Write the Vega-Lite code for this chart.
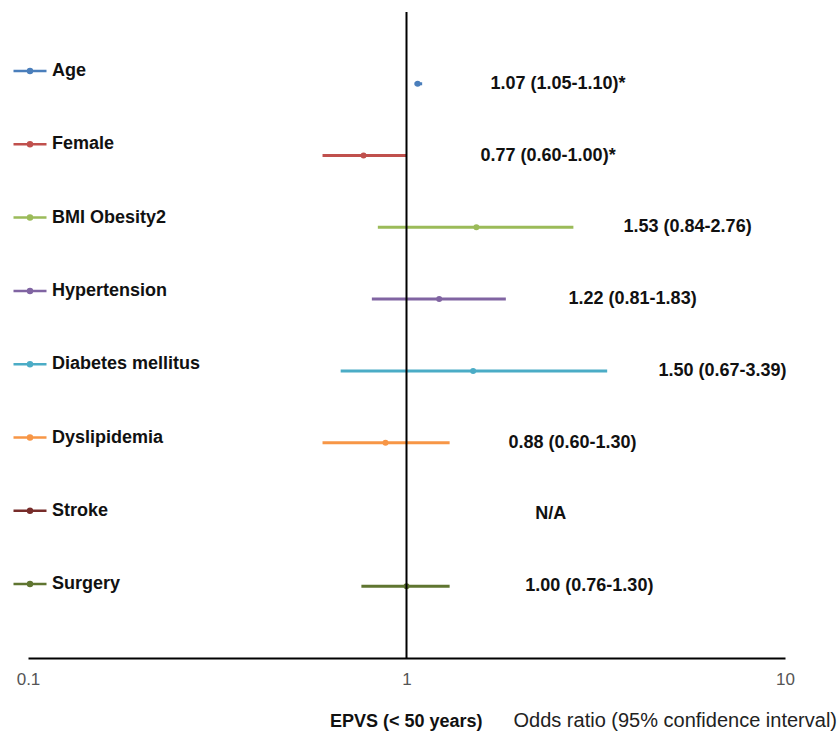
{
  "$schema": "https://vega.github.io/schema/vega-lite/v6.json",
  "autosize": {"type": "none"},
  "width": 757,
  "height": 646,
  "padding": {"left": 28, "top": 12, "right": 52, "bottom": 76},
  "background": "white",
  "config": {"view": {"stroke": null}, "font": "Liberation Sans"},
  "title": {"text": "EPVS (< 50 years)", "orient": "bottom", "anchor": "start", "frame": "group", "dx": 302, "offset": -17, "fontSize": 18, "fontWeight": "bold", "color": "#111", "font": "Liberation Sans"},
  "data": {"values": [
    {"var": "Age", "or": 1.07, "lo": 1.05, "hi": 1.10, "label": "1.07 (1.05-1.10)*", "lx": 1.667},
    {"var": "Female", "or": 0.77, "lo": 0.60, "hi": 1.00, "label": "0.77 (0.60-1.00)*", "lx": 1.569},
    {"var": "BMI Obesity2", "or": 1.53, "lo": 0.84, "hi": 2.76, "label": "1.53 (0.84-2.76)", "lx": 3.745},
    {"var": "Hypertension", "or": 1.22, "lo": 0.81, "hi": 1.83, "label": "1.22 (0.81-1.83)", "lx": 2.68},
    {"var": "Diabetes mellitus", "or": 1.50, "lo": 0.67, "hi": 3.39, "label": "1.50 (0.67-3.39)", "lx": 4.63},
    {"var": "Dyslipidemia", "or": 0.88, "lo": 0.60, "hi": 1.30, "label": "0.88 (0.60-1.30)", "lx": 1.86},
    {"var": "Stroke", "or": null, "lo": null, "hi": null, "label": "N/A", "lx": 2.19},
    {"var": "Surgery", "or": 1.00, "lo": 0.76, "hi": 1.30, "label": "1.00 (0.76-1.30)", "lx": 2.06}
  ]},
  "encoding": {
    "y": {"field": "var", "type": "nominal", "sort": null,
      "scale": {"type": "point", "padding": 1, "domain": ["Age", "Female", "BMI Obesity2", "Hypertension", "Diabetes mellitus", "Dyslipidemia", "Stroke", "Surgery"]}, "axis": null}
  },
  "layer": [
    {
      "mark": {"type": "rule", "strokeWidth": 3},
      "encoding": {
        "x": {"field": "lo", "type": "quantitative", "scale": {"type": "log", "domain": [0.1, 10], "nice": false},
          "axis": {"values": [0.1, 1, 10], "labelExpr": "datum.value == 0.1 ? '0.1' : datum.value == 1 ? '1' : '10'", "labelFlush": false, "ticks": false, "grid": false, "domainColor": "#000", "domainWidth": 2, "labelFontSize": 17, "labelColor": "#555", "labelPadding": 13, "labelFont": "Liberation Sans",
            "title": "Odds ratio (95% confidence interval)", "titleX": 485, "titleY": 62, "titleAlign": "left", "titleAnchor": null, "titleBaseline": "middle", "titleFontSize": 20, "titleFontWeight": "normal", "titleColor": "#222", "titleFont": "Liberation Sans"}},
        "x2": {"field": "hi"},
        "color": {"field": "var", "type": "nominal", "sort": null,
          "scale": {"domain": ["Age", "Female", "BMI Obesity2", "Hypertension", "Diabetes mellitus", "Dyslipidemia", "Stroke", "Surgery"],
            "range": ["#4a7ebb", "#c0504d", "#9bbb59", "#8064a2", "#4bacc6", "#f79646", "#772c2a", "#5f7530"]},
          "legend": {"orient": "none", "legendX": -16, "legendY": 41, "title": null, "padding": 0,
            "symbolType": "M-1,0L1,0M-0.12,0A0.12,0.12,0,1,1,0.12,0A0.12,0.12,0,1,1,-0.12,0Z",
            "symbolSize": 1089, "symbolStrokeWidth": 2.5, "rowPadding": 46.3, "labelOffset": 4,
            "labelFontSize": 18, "labelFontWeight": "bold", "labelColor": "#111", "labelFont": "Liberation Sans", "labelLimit": 300,
            "encode": {"symbols": {"update": {"fill": {"field": "value", "scale": "color"}, "stroke": {"field": "value", "scale": "color"}, "opacity": {"value": 1}}}}}
        }
      }
    },
    {
      "mark": {"type": "point", "filled": true, "size": 36, "opacity": 1},
      "encoding": {
        "x": {"field": "or", "type": "quantitative"},
        "color": {"field": "var", "type": "nominal", "sort": null}
      }
    },
    {
      "mark": {"type": "text", "align": "left", "baseline": "middle", "fontSize": 18, "fontWeight": "bold", "color": "#111", "font": "Liberation Sans"},
      "encoding": {
        "x": {"field": "lx", "type": "quantitative"},
        "text": {"field": "label"}
      }
    },
    {
      "data": {"values": [{"ref": 1}]},
      "mark": {"type": "rule", "color": "#000", "strokeWidth": 2},
      "encoding": {"x": {"field": "ref", "type": "quantitative"}, "y": null}
    }
  ]
}
